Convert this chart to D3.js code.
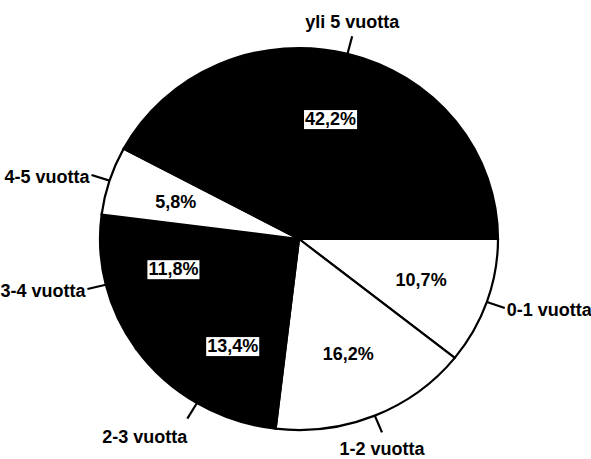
<!DOCTYPE html>
<html lang="fi">
<head>
    <meta charset="UTF-8">
    <title>Työssäoloaika</title>
    <script src="https://d3js.org/d3.v7.min.js"></script>
    <style>
        body { margin: 0; background: #fff; }
        text {
            font-family: "Liberation Sans", Arial, sans-serif;
            font-size: 18px;
            font-weight: bold;
            fill: #000;
        }
    </style>
</head>
<body>
    <script>
        // data
        const categories = ["0-1 vuotta", "1-2 vuotta", "2-3 vuotta", "3-4 vuotta", "4-5 vuotta", "yli 5 vuotta"];
        const shares = [10.7, 16.2, 13.4, 11.8, 5.8, 42.2];
        const sliceFills = ["#fff", "#fff", "#000", "#000", "#fff", "#000"];
        // where the outside label goes relative to its leader line
        const placement = ["right", "below", "belowLeft", "left", "left", "above"];

        const width = 591, height = 459;
        const cx = 299, cy = 239;
        const rx = 199, ry = 191, R = 195;

        const svg = d3.select("body").append("svg")
            .attr("width", width)
            .attr("height", height);

        const data = categories.map((c, i) => ({ name: c, value: shares[i], fill: sliceFills[i], place: placement[i] }));

        // starts at 3 o'clock and runs clockwise
        const pie = d3.pie()
            .sort(null)
            .value(d => d.value)
            .startAngle(Math.PI / 2)
            .endAngle(Math.PI / 2 + 2 * Math.PI);
        const arcs = pie(data);

        const arc = d3.arc().innerRadius(0).outerRadius(R);

        const pieG = svg.append("g")
            .attr("transform", `translate(${cx},${cy}) scale(${rx / R},${ry / R})`);

        pieG.selectAll("path")
            .data(arcs)
            .enter().append("path")
            .attr("d", arc)
            .attr("fill", d => d.data.fill)
            .attr("stroke", "#000")
            .attr("stroke-width", 2.2)
            .attr("vector-effect", "non-scaling-stroke");

        // point on the (slightly elliptic) pie at d3 angle a and radius fraction k
        const pt = (a, k) => [cx + rx * k * Math.sin(a), cy - ry * k * Math.cos(a)];
        const mid = d => (d.startAngle + d.endAngle) / 2;

        const fmt = v => d3.format(".1f")(v).replace(".", ",") + "%";

        // percentage labels, boxed in white on the dark slices
        arcs.forEach(d => {
            const [x, y] = pt(mid(d), 0.65);
            const g = svg.append("g");
            const t = g.append("text")
                .attr("x", x)
                .attr("y", y)
                .attr("dy", "0.36em")
                .attr("text-anchor", "middle")
                .text(fmt(d.data.value));
            if (d.data.fill === "#000") {
                const b = t.node().getBBox();
                g.insert("rect", "text")
                    .attr("x", b.x - 1)
                    .attr("y", b.y + 1)
                    .attr("width", b.width + 2)
                    .attr("height", b.height - 1)
                    .attr("fill", "#fff");
            }
        });

        // category labels with short radial leaders
        arcs.forEach(d => {
            const a = mid(d);
            const [x1, y1] = pt(a, 1.0);
            const [x2, y2] = pt(a, 1.095);
            svg.append("line")
                .attr("x1", x1).attr("y1", y1)
                .attr("x2", x2).attr("y2", y2)
                .attr("stroke", "#000")
                .attr("stroke-width", 2.2);

            let tx = x2, ty = y2, anchor = "middle";
            switch (d.data.place) {
                case "right": tx += 2; ty += 8; anchor = "start"; break;
                case "left": tx -= 2; ty += 8; anchor = "end"; break;
                case "above": ty -= 8; break;
                case "below": ty += 23; break;
                case "belowLeft": ty += 24; anchor = "end"; break;
            }
            svg.append("text")
                .attr("x", tx)
                .attr("y", ty)
                .attr("text-anchor", anchor)
                .text(d.data.name);
        });
    </script>
</body>
</html>
